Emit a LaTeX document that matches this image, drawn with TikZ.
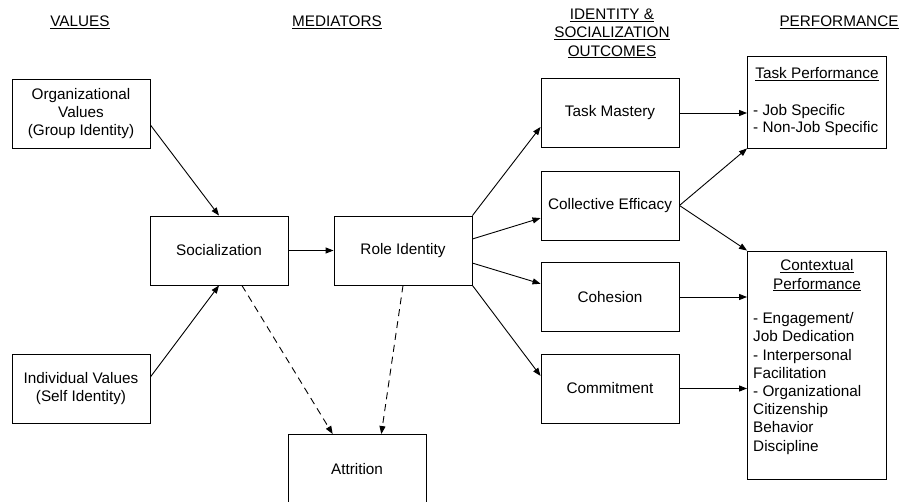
\documentclass[tikz,border=0pt]{standalone}
\usepackage{fontspec}
\setmainfont{Liberation Sans}
\usetikzlibrary{arrows.meta,calc}
\begin{document}
\begin{tikzpicture}[x=1pt,y=-1pt,
  box/.style={draw,line width=0.9pt,minimum width=138pt,minimum height=69pt,inner sep=0pt,align=center,font=\fontsize{15.3}{18.3}\selectfont},
  txt/.style={inner sep=0pt,align=center,font=\fontsize{15.3}{18.3}\selectfont},
  ltxt/.style={inner sep=0pt,align=left,anchor=west},
  arr/.style={line width=0.9pt,-{Triangle[length=8pt,width=6pt]}},
  darr/.style={arr,dash pattern=on 7pt off 5pt}]
\useasboundingbox (0,0) rectangle (902,502);
% headers
\node[txt] (h1) at (80,22) {\underline{VALUES}};
\node[txt] (h2) at (337,22) {\underline{MEDIATORS}};
\node[txt] (h3) at (612,33.5) {\underline{IDENTITY \&}\\\underline{SOCIALIZATION}\\\underline{OUTCOMES}};
\node[txt] (h4) at (839,22) {\underline{PERFORMANCE}};
% boxes
\node[box] (org) at (81,113.5) {Organizational\\Values\\(Group Identity)};
\node[box] (ind) at (81,388.5) {Individual Values\\(Self Identity)};
\node[box] (soc) at (219,250.5) {Socialization};
\node[box] (role) at (403,250.5) {Role Identity};
\node[box] (att) at (357,469) {Attrition};
\node[box] (tm) at (610,113) {Task Mastery};
\node[box] (ce) at (610,205.5) {Collective Efficacy};
\node[box] (coh) at (610,297) {Cohesion};
\node[box] (com) at (610,388.5) {Commitment};
\node[box,minimum width=139pt,minimum height=92pt] (tp) at (817,102) {};
\node[txt] (tpt) at (817,74) {\underline{Task Performance}};
\node[txt,ltxt,font=\fontsize{15.3}{17}\selectfont] (tpl) at (753,120.5) {- Job Specific\\- Non-Job Specific};
\node[box,minimum width=139pt,minimum height=228pt] (cp) at (817,365) {};
\node[txt] (cpt) at (817,275.5) {\underline{Contextual}\\\underline{Performance}};
\node[txt,ltxt,font=\fontsize{15.3}{18.2}\selectfont] (cpl) at (753,383.5) {- Engagement/\\Job Dedication\\- Interpersonal\\Facilitation\\- Organizational\\Citizenship\\Behavior\\Discipline};
% connectors
\draw[arr] ($(org.east)!0.33!(org.south east)$) -- (soc.north);
\draw[arr] ($(ind.east)!0.33!(ind.north east)$) -- (soc.south);
\draw[arr] (soc.east) -- (role.west);
\draw[darr] ($(soc.south)!0.33!(soc.south east)$) -- ($(att.north)!0.35!(att.north west)$);
\draw[darr] (role.south) -- ($(att.north)!0.35!(att.north east)$);
\draw[arr] (role.north east) -- ($(tm.west)!0.4!(tm.south west)$);
\draw[arr] ($(role.east)!0.33!(role.north east)$) -- ($(ce.west)!0.36!(ce.south west)$);
\draw[arr] ($(role.east)!0.36!(role.south east)$) -- ($(coh.west)!0.38!(coh.north west)$);
\draw[arr] (role.south east) -- ($(com.west)!0.36!(com.north west)$);
\draw[arr] (tm.east) -- (tm.east -| tp.west);
\draw[arr] (ce.east) -- (tp.south west);
\draw[arr] (ce.east) -- (cp.north west);
\draw[arr] (coh.east) -- (coh.east -| cp.west);
\draw[arr] (com.east) -- (com.east -| cp.west);
\end{tikzpicture}
\end{document}
